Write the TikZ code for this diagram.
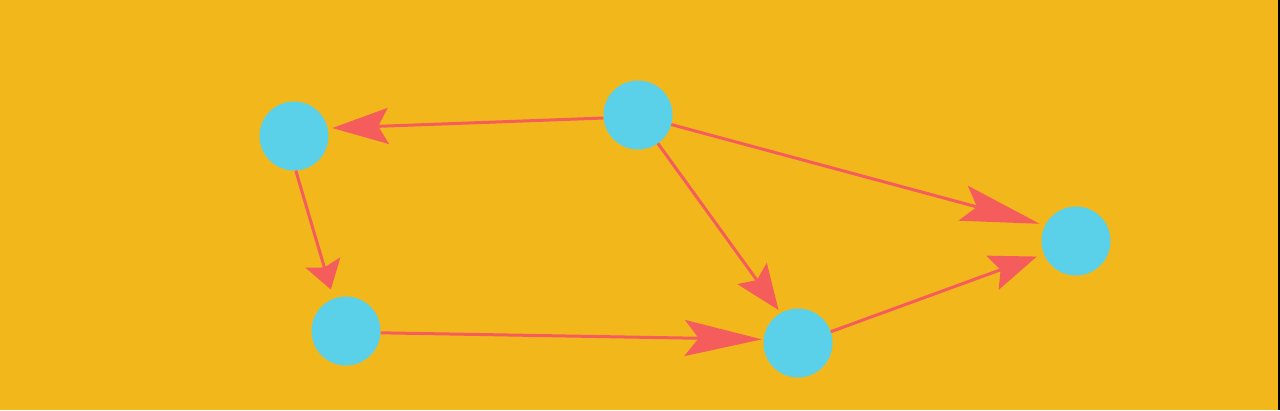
\documentclass[tikz,border=0pt]{standalone}
\usetikzlibrary{arrows.meta}
\definecolor{bg}{RGB}{242,184,27}
\definecolor{nodec}{RGB}{91,208,233}
\definecolor{edgec}{RGB}{245,92,92}
\begin{document}
\begin{tikzpicture}[x=1pt,y=-1pt,
  vert/.style={circle,fill=nodec,minimum size=69pt,inner sep=0pt},
  link/.style={draw=edgec,line width=3pt},
  tipx/.style={-{Stealth[length=#1,width=36pt,inset=0.18*#1]}}]
\fill[bg] (0,0) rectangle (1280,410);
\fill[black] (1278,0) rectangle (1280,410);
\useasboundingbox (0,0) rectangle (1280,410);
\node[vert] (A) at (294,136) {};
\node[vert] (B) at (638,115) {};
\node[vert] (C) at (346,331) {};
\node[vert] (D) at (798,343) {};
\node[vert] (E) at (1076,241) {};
\draw[link,tipx=56pt,shorten >=4.5pt] (B.185) -- (A.13);
\draw[link,tipx=28pt,shorten >=9.5pt] (A.273) -- (C.111);
\draw[link,tipx=77pt,shorten >=1.7pt] (C.357) -- (D.174);
\draw[link,tipx=45pt,shorten >=3.6pt] (B.305) -- (D.120);
\draw[link,tipx=79pt,shorten >=5.7pt] (B.344) -- (E.153);
\draw[link,tipx=47pt,shorten >=7.5pt] (D.19) -- (E.202);
\end{tikzpicture}
\end{document}
